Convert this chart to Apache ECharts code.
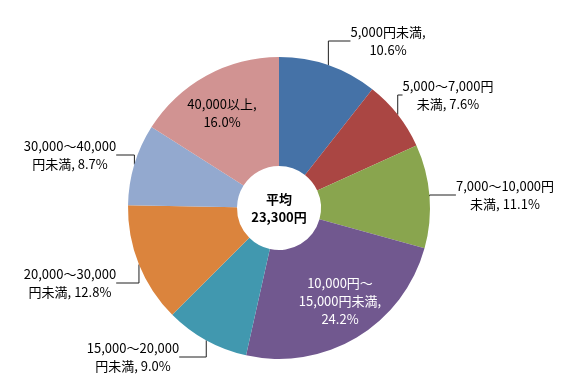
<!DOCTYPE html>
<html>
<head>
<meta charset="utf-8">
<script src="https://cdn.jsdelivr.net/npm/echarts@6/dist/echarts.min.js"></script>
<style>
  html, body { margin: 0; padding: 0; background: #fff; }
  #main { width: 580px; height: 376px; }
</style>
</head>
<body>
<div id="main"></div>
<script>
// 区分と割合（%）
var categories = ['5,000円未満', '5,000～7,000円未満', '7,000～10,000円未満', '10,000円～15,000円未満',
    '15,000～20,000円未満', '20,000～30,000円未満', '30,000～40,000円未満', '40,000以上'];
var shares = [10.6, 7.6, 11.1, 24.2, 9.0, 12.8, 8.7, 16.0];
// ラベル表示テキスト（改行位置は元の図に合わせる）
var labelTexts = ['5,000円未満,\n10.6%', '5,000～7,000円\n未満, 7.6%', '7,000～10,000円\n未満, 11.1%',
    '10,000円～\n15,000円未満,\n24.2%', '15,000～20,000\n円未満, 9.0%', '20,000～30,000\n円未満, 12.8%',
    '30,000～40,000\n円未満, 8.7%', '40,000以上,\n16.0%'];
var centerText = ['平均', '23,300円'];

var colors = ['#4572A7', '#AA4643', '#89A54E', '#71588F', '#4198AF', '#DB843D', '#93A9CF', '#D19392'];
// ラベルの中心位置
var labelPos = [[388, 41], [448, 95], [505, 195], [340, 301], [133, 357], [70, 283], [70, 155], [222, 113]];
var insideLabel = [false, false, false, true, false, false, false, true];
var FONT = '"Noto Sans CJK JP", "Noto Sans", sans-serif';

var chart = echarts.init(document.getElementById('main'));

var datas = [];
for (var i = 0; i < categories.length; i++) {
    datas.push({
        name: categories[i],
        value: shares[i],
        label: {
            formatter: labelTexts[i],
            color: i === 3 ? '#fff' : '#000'
        },
        labelLine: { show: !insideLabel[i] }
    });
}

var option = {
    animation: false,
    color: colors,
    graphic: {
        type: 'text',
        x: 279,
        y: 208,
        style: {
            text: centerText.join('\n'),
            textAlign: 'center',
            textVerticalAlign: 'middle',
            fill: '#000',
            fontSize: 13,
            fontWeight: 'bold',
            lineHeight: 18,
            fontFamily: FONT
        }
    },
    series: [{
        type: 'pie',
        center: [279, 208],
        radius: [42, 151],
        startAngle: 90,
        clockwise: true,
        avoidLabelOverlap: false,
        label: {
            show: true,
            position: 'outside',
            fontSize: 13,
            lineHeight: 18,
            fontFamily: FONT,
            align: 'center'
        },
        labelLine: {
            show: true,
            lineStyle: { color: '#202020', width: 1 }
        },
        labelLayout: function (params) {
            var p = labelPos[params.dataIndex];
            return { x: p[0], y: p[1], align: 'center', verticalAlign: 'middle' };
        },
        emphasis: { disabled: true },
        data: datas
    }]
};
chart.setOption(option);
</script>
</body>
</html>
